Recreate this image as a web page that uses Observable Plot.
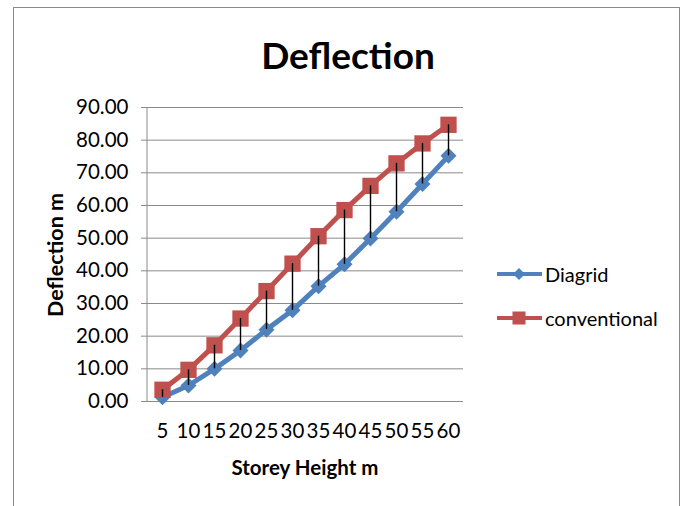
<!DOCTYPE html>
<html><head><meta charset="utf-8">
<script src="https://cdn.jsdelivr.net/npm/d3@7"></script>
<script src="https://cdn.jsdelivr.net/npm/@observablehq/plot@0.6"></script>
<style>
body{margin:0;background:#fff;}
#wrap{position:relative;width:684px;height:506px;overflow:hidden;font-family:Lato,"Open Sans",sans-serif;color:#000;}
#frame{position:absolute;left:13px;top:7px;width:667px;height:530px;border:1.5px solid #8a8a8a;box-sizing:border-box;}
#chart{position:absolute;left:0;top:0;}
.t{position:absolute;white-space:nowrap;line-height:1;}
#title{left:348px;top:54px;transform:translate(-50%,-50%);font-size:37px;font-weight:700;}
#ylab{left:56px;top:255px;transform:translate(-50%,-50%) rotate(-90deg);font-size:21.5px;font-weight:700;}
#xlab{left:305px;top:467px;transform:translate(-50%,-50%);font-size:20.5px;font-weight:700;}
.leg{position:absolute;left:497px;display:flex;align-items:center;font-size:20px;line-height:1;}
.leg svg{margin-right:3px;}
</style></head>
<body>
<div id="wrap">
  <div id="frame"></div>
  <div id="chart"></div>
  <div class="t" id="title">Deflection</div>
  <div class="t" id="ylab">Deflection m</div>
  <div class="t" id="xlab">Storey Height m</div>
  <div id="legend"></div>
</div>
<script>
const heights = [5, 10, 15, 20, 25, 30, 35, 40, 45, 50, 55, 60];
const diagrid = [1.3, 4.9, 10.0, 15.6, 22.0, 27.9, 35.3, 42.0, 49.9, 58.1, 66.6, 75.2];
const conventional = [3.6, 9.7, 17.2, 25.4, 33.8, 42.2, 50.6, 58.6, 66.0, 72.9, 79.0, 84.7];
const seriesNames = ["Diagrid", "conventional"];
const seriesColors = ["#4F81BD", "#C0504D"];
const yTicks = [0, 10, 20, 30, 40, 50, 60, 70, 80, 90];

const rows = heights.map((h, i) => ({h: String(h), d: diagrid[i], c: conventional[i]}));

const plot = Plot.plot({
  width: 684, height: 506,
  marginLeft: 147, marginRight: 221, marginTop: 107, marginBottom: 105,
  style: {fontFamily: 'Lato, "Open Sans", sans-serif', fontSize: "20px", color: "#000", background: "transparent"},
  x: {type: "point", domain: heights.map(String), padding: 0.5},
  y: {domain: [0, 90]},
  marks: [
    Plot.gridY(yTicks, {stroke: "#8a8a8a", strokeOpacity: 1, strokeWidth: 1}),
    Plot.axisY(yTicks, {tickFormat: d3.format(".2f"), tickSize: 6, tickPadding: 13, stroke: "#8a8a8a", strokeOpacity: 1, fontSize: 20.5, label: null}),
    Plot.axisX({tickSize: 0, tickPadding: 22, fontSize: 20.5, label: null}),
    Plot.line(rows, {x: "h", y: "d", stroke: seriesColors[0], strokeWidth: 5}),
    Plot.dot(rows, {x: "h", y: "d", symbol: "diamond2", r: 7.2, fill: seriesColors[0], stroke: "none"}),
    Plot.line(rows, {x: "h", y: "c", stroke: seriesColors[1], strokeWidth: 5}),
    Plot.dot(rows, {x: "h", y: "c", symbol: "square", r: 9.2, fill: seriesColors[1], stroke: "none"}),
    Plot.ruleX(rows, {x: "h", y1: "d", y2: "c", stroke: "#000", strokeWidth: 1.4})
  ]
});
document.getElementById("chart").appendChild(plot);

// vertical value-axis line at the left edge of the x range
const xr = plot.scale("x").range, yr = plot.scale("y").range;
d3.select(plot).append("line")
  .attr("x1", xr[0]).attr("x2", xr[0])
  .attr("y1", yr[0]).attr("y2", yr[1])
  .attr("stroke", "#8a8a8a").attr("stroke-width", 1);

// legend
const leg = document.getElementById("legend");
seriesNames.forEach((name, i) => {
  const div = document.createElement("div");
  div.className = "leg";
  div.style.top = (i === 0 ? 262 : 306) + "px";
  const marker = i === 0
    ? `<path d="M22,6 L28,12 L22,18 L16,12 Z" fill="${seriesColors[0]}"/>`
    : `<rect x="15.5" y="5.5" width="13" height="13" fill="${seriesColors[1]}"/>`;
  div.innerHTML = `<svg width="45" height="24"><line x1="0" x2="45" y1="12" y2="12" stroke="${seriesColors[i]}" stroke-width="4"/>${marker}</svg><span>${name}</span>`;
  leg.appendChild(div);
});
</script>
</body></html>
